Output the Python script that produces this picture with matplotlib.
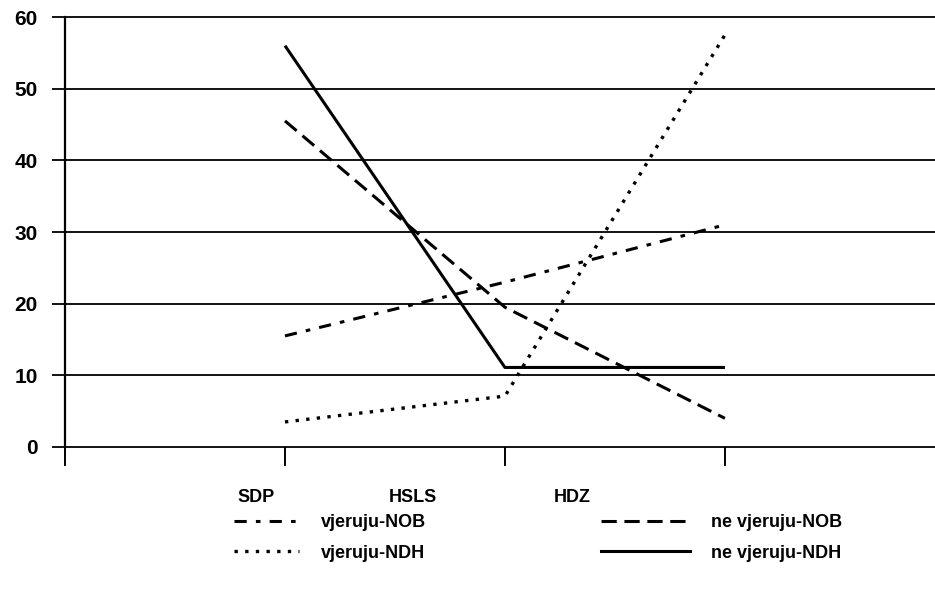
import matplotlib
matplotlib.use('Agg')
import matplotlib.pyplot as plt
from matplotlib.lines import Line2D

# data
parties = ['SDP', 'HSLS', 'HDZ']
vjeruju_nob = [15.5, 23.0, 31.0]
ne_vjeruju_nob = [45.5, 19.5, 4.0]
vjeruju_ndh = [3.5, 7.1, 57.5]
ne_vjeruju_ndh = [56.0, 11.1, 11.1]
y_ticks = [0, 10, 20, 30, 40, 50, 60]

plt.rcParams['font.family'] = ['Liberation Sans', 'DejaVu Sans']
plt.rcParams['font.weight'] = 'bold'

W, H = 935, 590
fig = plt.figure(figsize=(W / 100, H / 100), dpi=100)
ax = fig.add_axes([65 / W, 143 / H, (W - 65) / W, (447 - 17) / H])

x = list(range(len(parties)))
styles = {
    'vjeruju-NOB': dict(ls=(0, (4, 3, 1.5, 3)), lw=2.2),
    'ne vjeruju-NOB': dict(ls=(0, (5, 2.5)), lw=2.2),
    'vjeruju-NDH': dict(ls=(0, (1, 2.2)), lw=2.4),
    'ne vjeruju-NDH': dict(ls='-', lw=2.2),
}
series = {
    'vjeruju-NOB': vjeruju_nob,
    'ne vjeruju-NOB': ne_vjeruju_nob,
    'vjeruju-NDH': vjeruju_ndh,
    'ne vjeruju-NDH': ne_vjeruju_ndh,
}
for name, vals in series.items():
    ax.plot(x, vals, color='black', solid_capstyle='butt', dash_capstyle='butt', **styles[name])

ax.set_xlim(-1, 2.955)
ax.set_ylim(0, 60)
ax.set_yticks(y_ticks)
ax.set_xticks([-1] + x)
ax.set_xticklabels([''] * (len(x) + 1))
ax.yaxis.grid(True, color='black', lw=1.3)
for gl in ax.get_ygridlines():
    gl.set_clip_on(False)
ax.set_axisbelow(True)

for s in ['top', 'right', 'bottom']:
    ax.spines[s].set_visible(False)
ax.spines['left'].set_linewidth(1.6)
ax.tick_params(axis='y', length=9.5, width=1.3, pad=10, labelsize=15)
ax.tick_params(axis='x', length=13.5, width=1.4)

# category labels sit below the axis, a bit left of each tick
label_px = [256, 413, 572]
for lab, px in zip(parties, label_px):
    fig.text(px / W, 1 - 497 / H, lab, ha='center', va='center', fontsize=13, fontweight='bold')

# legend in two columns with different handle lengths
def make_handles(names):
    return [Line2D([], [], color='black', **styles[n]) for n in names]

left = ['vjeruju-NOB', 'vjeruju-NDH']
right = ['ne vjeruju-NOB', 'ne vjeruju-NDH']
leg1 = fig.legend(make_handles(left), left, loc='upper left',
                  bbox_to_anchor=(225 / W, 1 - 505 / H), frameon=False,
                  prop={'size': 13, 'weight': 'bold'}, handlelength=3.6,
                  handletextpad=1.2, labelspacing=0.75, borderpad=0)
leg2 = fig.legend(make_handles(right), right, loc='upper left',
                  bbox_to_anchor=(592 / W, 1 - 505 / H), frameon=False,
                  prop={'size': 13, 'weight': 'bold'}, handlelength=4.9,
                  handletextpad=1.2, labelspacing=0.75, borderpad=0)

fig.savefig('out.png', dpi=100, facecolor='white')
